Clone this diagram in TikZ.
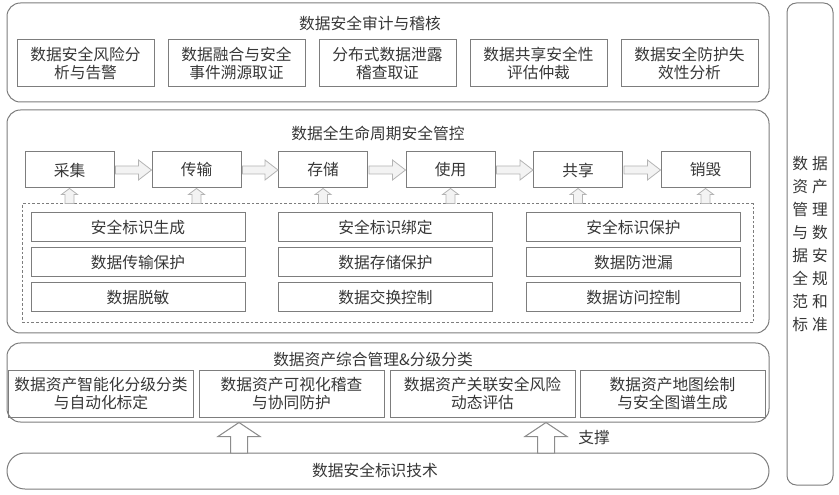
\documentclass[tikz,border=0pt]{standalone}
\usepackage{fontspec}
\setmainfont{Noto Sans CJK SC}
\usetikzlibrary{calc}

\tikzset{every picture/.style={line width=0.75pt}}
\tikzset{
  frame/.style={draw={rgb,255:red,125;green,125;blue,125}, inner sep=0pt, align=center,
    text={rgb,255:red,55;green,55;blue,55}, font=\fontsize{11.8pt}{14pt}\selectfont},
  section/.style={frame, rounded corners=10pt, minimum width=571.5pt},
  itembox/.style={frame, minimum width=102.75pt, minimum height=35.25pt},
  stagebox/.style={frame, minimum width=66.75pt, minimum height=27pt},
  ctrlbox/.style={frame, minimum width=160.5pt, minimum height=21.75pt},
  assetbox/.style={frame, minimum width=138.75pt, minimum height=35.25pt},
  title/.style={text={rgb,255:red,55;green,55;blue,55}, inner sep=0pt, font=\fontsize{11.8pt}{14pt}\selectfont},
  flowarr/.style={draw={rgb,255:red,180;green,180;blue,180}, fill={rgb,255:red,243;green,243;blue,243}, line width=0.6pt},
  supportarr/.style={draw={rgb,255:red,140;green,140;blue,140}, fill=white, line width=0.75pt},
}
% horizontal hollow arrow between two stage nodes
\newcommand{\blockright}[2]{%
  \draw[flowarr] ($(#1.east)+(1,-4)$) -- ($(#2.west)+(-13,-4)$) -- ($(#2.west)+(-13,-10)$) -- ($(#2.west)+(0,0)$)
    -- ($(#2.west)+(-13,10)$) -- ($(#2.west)+(-13,4)$) -- ($(#1.east)+(1,4)$) -- cycle ;}
% upward hollow arrow: base, tip, body half width, head half width, head length, style
\newcommand{\blockup}[6]{%
  \draw[#6] ($(#1)+(-#3,0)$) -- ($(#2)+(-#3,#5)$) -- ($(#2)+(-#4,#5)$) -- (#2)
    -- ($(#2)+(#4,#5)$) -- ($(#2)+(#3,#5)$) -- ($(#1)+(#3,0)$) -- cycle ;}

\begin{document}
\begin{tikzpicture}[x=0.75pt,y=0.75pt,yscale=-1,xscale=1]
\useasboundingbox (0,0) rectangle (839,495);

%Shape: Rounded Rect (audit layer)
\node[section, minimum height=74.25pt] (audit) at (388,52.5) {};
% Text Node
\node[title] (audittitle) at (370,23) {数据安全审计与稽核};
%Shape: Rectangle
\node[itembox] (aud1) at (85.5,63.5) {数据安全风险分\\析与告警};
\node[itembox] (aud2) at (236.5,63.5) {数据融合与安全\\事件溯源取证};
\node[itembox] (aud3) at (387.5,63.5) {分布式数据泄露\\稽查取证};
\node[itembox] (aud4) at (538.5,63.5) {数据共享安全性\\评估仲裁};
\node[itembox] (aud5) at (689.5,63.5) {数据安全防护失\\效性分析};

%Shape: Rounded Rect (lifecycle layer)
\node[section, minimum height=167.25pt] (life) at (388,221.5) {};
% Text Node
\node[title] (lifetitle) at (378,133) {数据全生命周期安全管控};
%Shape: Rectangle (stages)
\node[stagebox] (st1) at (69.5,170) {采集};
\node[stagebox] (st2) at (196.5,170) {传输};
\node[stagebox] (st3) at (323,170) {存储};
\node[stagebox] (st4) at (450.5,170) {使用};
\node[stagebox] (st5) at (578,170) {共享};
\node[stagebox] (st6) at (705.5,170) {销毁};
%Block Arrows
\blockright{st1}{st2}
\blockright{st2}{st3}
\blockright{st3}{st4}
\blockright{st4}{st5}
\blockright{st5}{st6}

%Shape: Rectangle (dashed control area)
\node[frame, dashed, dash pattern=on 2pt off 1.5pt, minimum width=548.25pt, minimum height=89.25pt] (ctrl) at (387.5,263.5) {};
\blockup{st1 |- ctrl.north}{st1.south}{4.5}{8}{6}{flowarr}
\blockup{st2 |- ctrl.north}{st2.south}{4.5}{8}{6}{flowarr}
\blockup{st3 |- ctrl.north}{st3.south}{4.5}{8}{6}{flowarr}
\blockup{st4 |- ctrl.north}{st4.south}{4.5}{8}{6}{flowarr}
\blockup{st5 |- ctrl.north}{st5.south}{4.5}{8}{6}{flowarr}
\blockup{st6 |- ctrl.north}{st6.south}{4.5}{8}{6}{flowarr}
%Shape: Rectangle (controls)
\node[ctrlbox] (c11) at (138,227.5) {安全标识生成};
\node[ctrlbox] (c12) at (138,262.5) {数据传输保护};
\node[ctrlbox] (c13) at (138,297.5) {数据脱敏};
\node[ctrlbox] (c21) at (385.5,227.5) {安全标识绑定};
\node[ctrlbox] (c22) at (385.5,262.5) {数据存储保护};
\node[ctrlbox] (c23) at (385.5,297.5) {数据交换控制};
\node[ctrlbox] (c31) at (633.5,227.5) {安全标识保护};
\node[ctrlbox] (c32) at (633.5,262.5) {数据防泄漏};
\node[ctrlbox] (c33) at (633.5,297.5) {数据访问控制};

%Shape: Rounded Rect (asset layer)
\node[section, minimum height=59.25pt] (mgmt) at (388,382.5) {};
% Text Node
\node[title] (mgmttitle) at (373,360) {数据资产综合管理\&分级分类};
%Shape: Rectangle
\node[assetbox] (as1) at (101,393.5) {数据资产智能化分级分类\\与自动化标定};
\node[assetbox] (as2) at (291.5,393.5) {数据资产可视化稽查\\与协同防护};
\node[assetbox] (as3) at (482.5,393.5) {数据资产关联安全风险\\动态评估};
\node[assetbox] (as4) at (672.5,393.5) {数据资产地图绘制\\与安全图谱生成};

%Shape: Rounded Rect (technology base)
\node[frame, rounded corners=13.4pt, minimum width=571.5pt, minimum height=27pt] (tech) at (388,471) {};
% Text Node
\node[title] (techtitle) at (375,470) {数据安全标识技术};
%Support Arrows
\coordinate (sup1) at (239,453);
\coordinate (sup2) at (546,453);
\blockup{sup1}{sup1 |- mgmt.south}{8.5}{21}{14}{supportarr}
\blockup{sup2}{sup2 |- mgmt.south}{8.5}{21}{14}{supportarr}
% Text Node
\node[title] (suptext) at (594,438) {支撑};

%Shape: Rounded Rect (standards)
\node[frame, rounded corners=7pt, minimum width=34.5pt, minimum height=361.5pt,
  font=\fontsize{11.8pt}{17.25pt}\selectfont] (std) at (810,244)
  {数\hspace{3pt}据\\资\hspace{3pt}产\\管\hspace{3pt}理\\与\hspace{3pt}数\\据\hspace{3pt}安\\全\hspace{3pt}规\\范\hspace{3pt}和\\标\hspace{3pt}准};

\end{tikzpicture}
\end{document}
